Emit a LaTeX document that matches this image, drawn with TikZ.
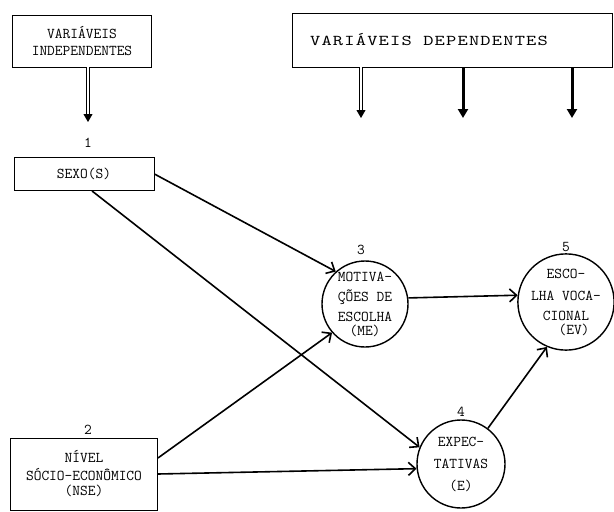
\documentclass[tikz,border=0pt]{standalone}
\usepackage{fontspec}
\newfontfamily\widemono{lmmono10-regular}[Extension=.otf,FakeStretch=1.3,LetterSpace=8]
\usetikzlibrary{arrows.meta}

\begin{document}
\begin{tikzpicture}[x=1pt,y=-1pt,font=\ttfamily\fontsize{15}{17}\selectfont,
    path/.style={line width=1.6pt,-{Straight Barb[length=7pt,width=13pt]}},
    dbl/.style={double,double distance=1.6pt,line width=0.8pt,-{Triangle[length=8pt,width=9pt]}},
    thick arrow/.style={line width=3pt,-{Triangle[length=9pt,width=10pt]}}]

        \useasboundingbox (0,0) rectangle (614,512);

        \begin{scope}[every node/.style={draw,line width=0.9pt,align=center,inner sep=0pt}]
          \node[minimum width=139,minimum height=52] (indep) at (82,41) {VARIÁVEIS\\INDEPENDENTES};
          \node[minimum width=320,minimum height=54] (dep) at (452,40) {\widemono VARIÁVEIS DEPENDENTES\hspace*{46pt}};
          \node[minimum width=140,minimum height=33] (sexo) at (84,174) {SEXO(S)};
          \node[minimum width=147,minimum height=72] (nse) at (84,474) {NÍVEL\\[1pt]SÓCIO-ECONÔMICO\\[-2pt](NSE)};
        \end{scope}

        \begin{scope}[every node/.style={circle,draw,line width=1.4pt,align=center,minimum size=86,inner sep=0pt}]
          \node (me) at (365,304) {MOTIVA-\\[3pt]ÇÕES DE\\[3pt]ESCOLHA\\[-3pt](ME)};
          \node (ev) at (566,302) {ESCO-\\[5pt]LHA VOCA-\\[3pt]CIONAL\\[-3pt]\hspace*{16pt}(EV)};
          \node[minimum size=88] (e) at (461,464) {EXPEC-\\[5pt]TATIVAS\\[5pt](E)};
        \end{scope}

        \begin{scope}[every node/.style={inner sep=0pt}]
          \node (n1) at (88,143) {1};
          \node (n2) at (88,430) {2};
          \node (n3) at (361,250) {3};
          \node (n4) at (461,412) {4};
          \node (n5) at (566,247) {5};
        \end{scope}

        \coordinate (i1) at (88,122);
        \coordinate (d1) at (361,118);
        \coordinate (d2) at (463,118);
        \coordinate (d3) at (572,118);

        \draw[dbl] (indep.south -| i1) -- (i1);
        \draw[dbl] (dep.south -| d1) -- (d1);
        \draw[thick arrow] (dep.south -| d2) -- (d2);
        \draw[thick arrow] (dep.south -| d3) -- (d3);

        \draw[path] (sexo.east) -- (me.132);
        \draw[path] ([xshift=8pt]sexo.south) -- (e.158);
        \draw[path] ([yshift=16pt]nse.east) -- (me.221);
        \draw[path] (nse.east) -- (e.186);
        \draw[path] (me.8) -- (ev.172);
        \draw[path] (e.53) -- (ev.247);

      \end{tikzpicture}
\end{document}
